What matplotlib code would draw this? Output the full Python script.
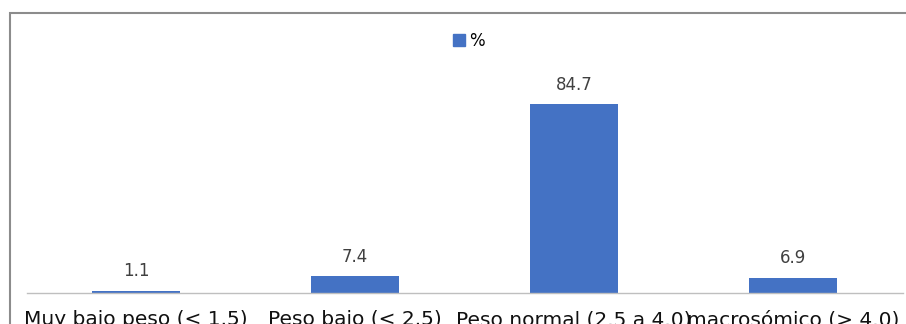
import matplotlib.pyplot as plt
from matplotlib.patches import Rectangle, Patch

categories = ["Muy bajo peso (< 1.5)", "Peso bajo (< 2.5)",
              "Peso normal (2.5 a 4.0)", "macrosómico (> 4.0)"]
values = [1.1, 7.4, 84.7, 6.9]
series_name = "%"
bar_color = "#4472C4"

W, H = 906, 324
fig = plt.figure(figsize=(W / 100, H / 100), dpi=100)
fig.patch.set_facecolor("white")

# chart frame (right and bottom edges run past the canvas)
frame_top = (H - 12.5) / H
fig.patches.append(Rectangle((9.5 / W, -0.5), 2.0, frame_top + 0.5,
                             transform=fig.transFigure, fill=False,
                             edgecolor="#8c8c8c", linewidth=1.5, zorder=0))

ax_left, ax_right = 26.5 / W, 902.5 / W
ax_bottom = (H - 293) / H
ymax = 90
ax_height = 189 / 84.7 * ymax / H
ax = fig.add_axes([ax_left, ax_bottom, ax_right - ax_left, ax_height])

x = range(len(categories))
bars = ax.bar(x, values, width=0.406, color=bar_color, zorder=2)
ax.set_xlim(-0.5, len(categories) - 0.5)
ax.set_ylim(0, ymax)

for rect, v in zip(bars, values):
    ax.annotate(f"{v:.1f}", (rect.get_x() + rect.get_width() / 2, rect.get_height()),
                xytext=(0, 7.5), textcoords="offset points",
                ha="center", va="bottom", fontsize=12, color="#404040")

for side in ("top", "right", "left"):
    ax.spines[side].set_visible(False)
ax.spines["bottom"].set_color("#bfbfbf")
ax.spines["bottom"].set_linewidth(1.0)
ax.set_yticks([])
ax.set_xticks(list(x))
ax.set_xticklabels(categories, fontsize=14.5, color="#111111")
ax.tick_params(axis="x", length=0, pad=12.5)

fig.legend(handles=[Patch(color=bar_color, label=series_name)],
           loc="center", bbox_to_anchor=(469 / W, 1 - 41 / H),
           frameon=False, fontsize=12, handlelength=0.7, handleheight=0.7,
           handletextpad=0.3, borderpad=0)

fig.savefig("out.png", dpi=100)
